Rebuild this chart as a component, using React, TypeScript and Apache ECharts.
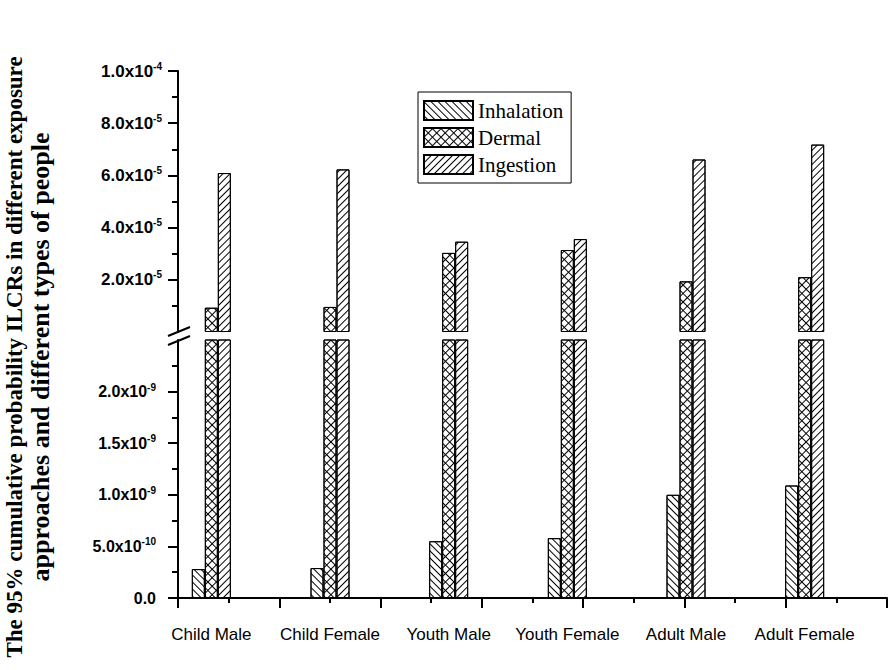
import React, { useEffect, useRef } from 'react';
import * as echarts from 'echarts';

const categories = ['Child Male', 'Child Female', 'Youth Male', 'Youth Female', 'Adult Male', 'Adult Female'];
const seriesNames = ['Inhalation', 'Dermal', 'Ingestion'];
const inhalation = [2.8e-10, 2.9e-10, 5.5e-10, 5.8e-10, 1.0e-9, 1.09e-9];
const dermal = [9.3e-6, 9.6e-6, 3.03e-5, 3.14e-5, 1.94e-5, 2.1e-5];
const ingestion = [6.09e-5, 6.23e-5, 3.46e-5, 3.56e-5, 6.61e-5, 7.18e-5];
const upperTicks = [2e-5, 4e-5, 6e-5, 8e-5, 1e-4];
const lowerTicks = [0, 5e-10, 1e-9, 1.5e-9, 2e-9];
const yTitle = ['The 95% cumulative probability ILCRs in different exposure', 'approaches and different types of people'];

const labelFont = 'Liberation Sans, Arial, sans-serif';
const serifFont = 'Liberation Serif, Times New Roman, serif';

function fmt(ticks: number[]) {
  return (v: number) => {
    const ok = ticks.some((t) => Math.abs(t - v) <= Math.abs(t) * 1e-6 + 1e-20);
    if (!ok) return '';
    if (v === 0) return '{b|0.0}';
    const e = Math.floor(Math.log10(v) + 1e-9);
    const m = v / Math.pow(10, e);
    return `{b|${m.toFixed(1)}x10}{s|${e}}`;
  };
}

function rich(size: number) {
  return {
    b: { fontSize: size, fontWeight: 'bold', fontFamily: labelFont, color: '#000', lineHeight: size + 3 },
    s: { fontSize: 10, fontWeight: 'bold', fontFamily: labelFont, color: '#000', verticalAlign: 'top', lineHeight: 9 },
  };
}

const lineDecal = (rot: number) => ({
  symbol: 'rect', symbolSize: 1, dashArrayX: [1, 0], dashArrayY: [1, 4], rotation: rot, color: '#000', backgroundColor: '#fff',
});
const crossDecal = {
  symbol: 'rect', symbolSize: 1, dashArrayX: [[1, 0], [1, 5]], dashArrayY: [1, 0, 5, 0],
  rotation: Math.PI / 4, color: '#000', backgroundColor: '#fff',
};
const decals = [lineDecal(Math.PI / 4), crossDecal, lineDecal(-Math.PI / 4)];
const dataSets = [inhalation, dermal, ingestion];

export default function App() {
  const ref = useRef<HTMLDivElement>(null);
  useEffect(() => {
    document.body.style.margin = '0';
    const chart = echarts.init(ref.current!, null, { renderer: 'svg' });
    const axisLineStyle = { color: '#000', width: 2 };
    const makeBar = (i: number, grid: number, border: boolean) => ({
      type: 'bar', name: seriesNames[i], data: dataSets[i], xAxisIndex: grid, yAxisIndex: grid,
      barWidth: 13, barGap: '0%', silent: true,
      itemStyle: { color: '#fff', borderColor: '#000', borderWidth: border ? 1 : 0, decal: decals[i] },
    });
    const option: any = {
      animation: false,
      backgroundColor: '#fff',
      grid: [
        { left: 152, width: 712, top: 71, height: 261 },
        { left: 152, width: 712, top: 340, height: 258 },
        { left: 178, width: 709, top: 340, height: 258 },
      ],
      xAxis: [
        { type: 'category', gridIndex: 0, data: categories, show: false },
        {
          type: 'category', gridIndex: 1, data: categories,
          axisLine: { show: false }, axisTick: { show: false },
          axisLabel: { interval: 0, fontSize: 17, fontFamily: labelFont, color: '#000', margin: 28 },
        },
        {
          type: 'value', gridIndex: 2, min: 0, max: 7, interval: 1,
          axisLine: { show: true, lineStyle: axisLineStyle },
          axisTick: { show: true, length: 10, lineStyle: axisLineStyle },
          minorTick: { show: true, splitNumber: 2, length: 5, lineStyle: axisLineStyle },
          axisLabel: { show: false }, splitLine: { show: false },
        },
      ],
      yAxis: [
        {
          type: 'value', gridIndex: 0, min: 0, max: 1e-4, interval: 2e-5, offset: -26,
          axisLine: { show: true, lineStyle: axisLineStyle },
          axisTick: { show: true, length: 10, lineStyle: axisLineStyle, customValues: upperTicks },
          minorTick: { show: true, splitNumber: 2, length: 6, lineStyle: axisLineStyle },
          axisLabel: { customValues: upperTicks, formatter: fmt(upperTicks), rich: rich(17), margin: 16 },
          splitLine: { show: false },
        },
        {
          type: 'value', gridIndex: 1, min: 0, max: 2.5e-9, interval: 5e-10, offset: -26,
          axisLine: { show: true, lineStyle: axisLineStyle },
          axisTick: { show: true, length: 10, lineStyle: axisLineStyle, customValues: lowerTicks },
          minorTick: { show: true, splitNumber: 2, length: 6, lineStyle: axisLineStyle },
          axisLabel: { customValues: lowerTicks, formatter: fmt(lowerTicks), rich: rich(16), margin: 22 },
          splitLine: { show: false },
        },
        { type: 'value', gridIndex: 2, show: false },
      ],
      legend: {
        show: true, left: 418, top: 92, orient: 'vertical', data: seriesNames, icon: 'rect',
        itemWidth: 49, itemHeight: 19, itemGap: 6, padding: [8, 8, 8, 5],
        borderColor: '#000', borderWidth: 1, selectedMode: false,
        textStyle: { fontFamily: serifFont, fontSize: 21, color: '#000' },
      },
      series: [
        makeBar(0, 1, true), makeBar(1, 1, true), makeBar(2, 1, true),
        makeBar(0, 0, false), makeBar(1, 0, true), makeBar(2, 0, true),
      ],
      graphic: [
        { type: 'line', z: 100, shape: { x1: 168, y1: 336, x2: 190, y2: 327 }, style: { stroke: '#000', lineWidth: 2 } },
        { type: 'line', z: 100, shape: { x1: 168, y1: 345, x2: 190, y2: 336 }, style: { stroke: '#000', lineWidth: 2 } },
        {
          type: 'text', x: 27, y: 357, rotation: Math.PI / 2,
          style: {
            text: `{a|${yTitle[0]}}\n{c|${yTitle[1]}}`, fontFamily: serifFont, fontWeight: 'bold',
            align: 'center', verticalAlign: 'middle', fill: '#000',
            rich: {
              a: { fontSize: 23, lineHeight: 26, fontWeight: 'bold', fontFamily: serifFont, fill: '#000' },
              c: { fontSize: 26, lineHeight: 26, fontWeight: 'bold', fontFamily: serifFont, fill: '#000' },
            },
          },
        },
      ],
    };
    chart.setOption(option);
    return () => chart.dispose();
  }, []);
  return <div ref={ref} style={{ width: 890, height: 670 }} />;
}
